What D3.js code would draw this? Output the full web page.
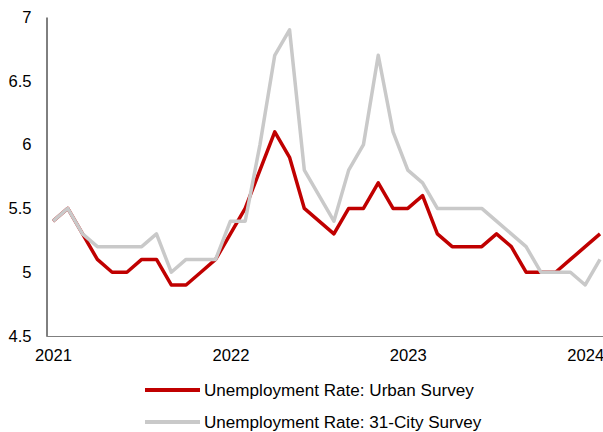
<!DOCTYPE html>
<html>
<head>
<meta charset="utf-8">
<script src="https://cdn.jsdelivr.net/npm/d3@7"></script>
<style>
  html, body { margin: 0; padding: 0; background: #fff; }
  svg { display: block; font-family: "Liberation Sans", Arial, sans-serif; }
</style>
</head>
<body>
<svg id="chart" width="603" height="432"></svg>
<script>
// Months Jan 2021 – Feb 2024
const months = [
  "2021-01","2021-02","2021-03","2021-04","2021-05","2021-06","2021-07","2021-08","2021-09","2021-10","2021-11","2021-12",
  "2022-01","2022-02","2022-03","2022-04","2022-05","2022-06","2022-07","2022-08","2022-09","2022-10","2022-11","2022-12",
  "2023-01","2023-02","2023-03","2023-04","2023-05","2023-06","2023-07","2023-08","2023-09","2023-10","2023-11","2023-12",
  "2024-01","2024-02"
];
const urban = [
  5.4,5.5,5.3,5.1,5.0,5.0,5.1,5.1,4.9,4.9,5.0,5.1,
  5.3,5.5,5.8,6.1,5.9,5.5,5.4,5.3,5.5,5.5,5.7,5.5,
  5.5,5.6,5.3,5.2,5.2,5.2,5.3,5.2,5.0,5.0,5.0,5.1,
  5.2,5.3
];
const city31 = [
  5.4,5.5,5.3,5.2,5.2,5.2,5.2,5.3,5.0,5.1,5.1,5.1,
  5.4,5.4,6.0,6.7,6.9,5.8,5.6,5.4,5.8,6.0,6.7,6.1,
  5.8,5.7,5.5,5.5,5.5,5.5,5.4,5.3,5.2,5.0,5.0,5.0,
  4.9,5.1
];
const yTicks = [4.5, 5, 5.5, 6, 6.5, 7];
const xTickMonths = ["2021-01","2022-01","2023-01","2024-01"];
const xTickLabels = ["2021","2022","2023","2024"];
const seriesNames = ["Unemployment Rate: Urban Survey", "Unemployment Rate: 31-City Survey"];
const colors = ["#C00000", "#C9C9C9"];

const FS = 16.6;
const LFS = 17.1;
const svg = d3.select("#chart");
const x = d3.scalePoint().domain(months).range([53, 600]);
const y = d3.scaleLinear().domain([4.5, 7]).range([336, 17]);

// Y axis
const yAxis = svg.append("g").attr("transform", "translate(46.5,0)")
  .call(d3.axisLeft(y).tickValues(yTicks).tickSize(0).tickPadding(15)
        .tickFormat(d => d3.format("")(d)));
yAxis.select(".domain").attr("stroke", "#000").attr("stroke-width", 1);
yAxis.selectAll("text").attr("font-size", FS).attr("fill", "#000")
  .attr("font-family", "Liberation Sans, Arial, sans-serif");

// X axis
const xAxis = svg.append("g").attr("transform", "translate(0,336.5)")
  .call(d3.axisBottom(x).tickValues(xTickMonths).tickSize(0).tickPadding(13)
        .tickFormat((d, i) => xTickLabels[i]));
xAxis.select(".domain").remove();
xAxis.append("line").attr("x1", 46.5).attr("x2", 603).attr("y1", 0).attr("y2", 0)
  .attr("stroke", "#7f7f7f").attr("stroke-width", 1);
xAxis.selectAll("text").attr("font-size", FS).attr("fill", "#000")
  .attr("font-family", "Liberation Sans, Arial, sans-serif");

const line = d3.line().x((d, i) => x(months[i])).y(d => y(d));

svg.append("path").datum(urban).attr("d", line)
  .attr("fill", "none").attr("stroke", colors[0]).attr("stroke-width", 3.5)
  .attr("stroke-linejoin", "round");
svg.append("path").datum(city31).attr("d", line)
  .attr("fill", "none").attr("stroke", colors[1]).attr("stroke-width", 3.5)
  .attr("stroke-linejoin", "round");

// Legend
const legend = svg.append("g");
seriesNames.forEach((name, i) => {
  const ly = 390 + i * 32;
  legend.append("line").attr("x1", 145).attr("x2", 200).attr("y1", ly).attr("y2", ly)
    .attr("stroke", colors[i]).attr("stroke-width", 4);
  legend.append("text").attr("x", 204).attr("y", ly + 6)
    .attr("font-size", LFS).attr("fill", "#000").text(name);
});
</script>
</body>
</html>
